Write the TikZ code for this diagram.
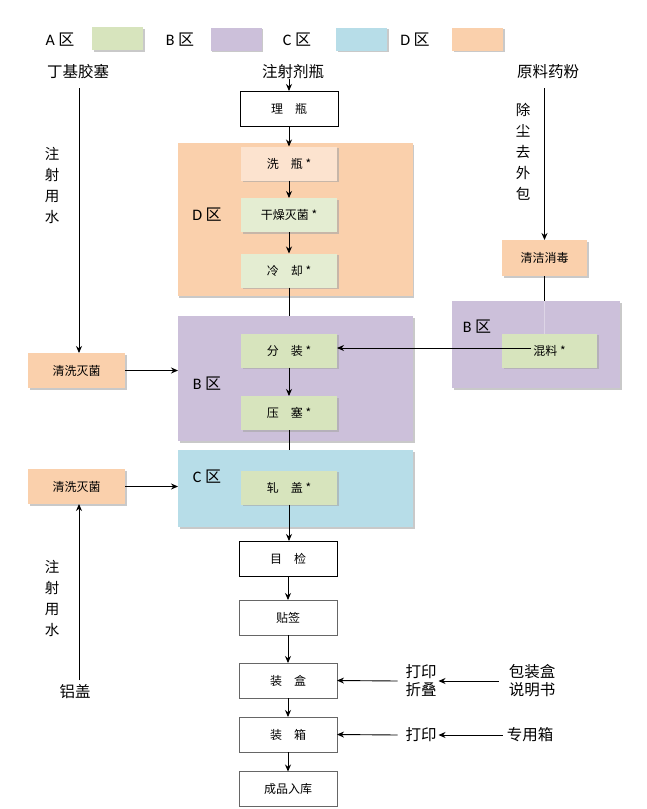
\documentclass[tikz,border=0pt]{standalone}
\usepackage{fontspec}
\setmainfont{Noto Sans CJK SC}
\newfontfamily\lat{Carlito}
\usetikzlibrary{arrows.meta,shadows}
\definecolor{zA}{HTML}{D7E4BD}
\definecolor{zAl}{HTML}{E4EDD2}
\definecolor{zB}{HTML}{CCC0DA}
\definecolor{zC}{HTML}{B7DDE8}
\definecolor{zD}{HTML}{FAD0AC}
\definecolor{zDl}{HTML}{FCE3CF}
\begin{document}
\begin{tikzpicture}[x=1pt,y=-1pt,
  every node/.style={inner sep=0pt, outer sep=0pt},
  shd/.style={drop shadow={shadow xshift=1.5pt,shadow yshift=-1.5pt,fill=black!35,opacity=0.6}},
  legendbox/.style={fill=#1, minimum width=51pt, minimum height=23pt, shd},
  zone/.style={fill=#1, minimum width=235pt, shd},
  inbox/.style={fill=#1, minimum width=96pt, minimum height=34pt, shd},
  whitebox/.style={draw=#1, fill=white, minimum width=98pt, minimum height=35pt},
  lbl/.style={font=\fontsize{15.5}{18}\selectfont},
  btxt/.style={font=\fontsize{12}{14}\selectfont},
  zlbl/.style={font=\fontsize{16}{18}\selectfont},
  vtxt/.style={font=\fontsize{14.5}{21}\selectfont, align=center},
  arr/.style={-{Stealth[length=7pt,width=6pt]}, line width=0.9pt},
  ln/.style={line width=0.9pt}
]
\useasboundingbox (0,0) rectangle (646,809);
\fill[white] (0,0) rectangle (646,809);

% legend
\node[zlbl] (la) at (60,40) {{\lat A} 区};
\node[legendbox=zA] (ra) at (117.5,38.5) {};
\node[zlbl] (lb) at (180,40) {{\lat B} 区};
\node[legendbox=zB] (rb) at (236,39) {};
\node[zlbl] (lc) at (297,40) {{\lat C} 区};
\node[legendbox=zC] (rc) at (361.5,39) {};
\node[zlbl] (ld) at (415,40) {{\lat D} 区};
\node[legendbox=zD] (rd) at (477.5,39) {};

% top labels
\node[lbl] (tj) at (78,72) {丁基胶塞};
\node[lbl] (zs) at (293,72) {注射剂瓶};
\node[lbl] (yl) at (548,72) {原料药粉};

% zones
\node[zone=zD, minimum height=153pt] (zoneD) at (295,219.5) {};
\node[zone=zB, minimum height=125pt] (zoneB) at (295.5,378.5) {};
\node[zone=zC, minimum height=77pt] (zoneC) at (295.5,488.5) {};
\node[fill=zB, minimum width=168pt, minimum height=87pt, shd] (zoneB2) at (536,344.5) {};

\node[zlbl] (zdl) at (207,215) {{\lat D} 区};
\node[zlbl] (zbl) at (207,384) {{\lat B} 区};
\node[zlbl] (zcl) at (207,477) {{\lat C} 区};
\node[zlbl] (zb2l) at (477,327) {{\lat B} 区};

% main column
\node[whitebox=black, btxt] (liping) at (289,108.5) {理\quad 瓶};
\node[inbox=zDl, btxt] (xiping) at (289,163.5) {洗\quad 瓶 *};
\node[inbox=zAl, btxt] (ganzao) at (289,215) {干燥灭菌 *};
\node[inbox=zAl, btxt] (lengque) at (289,270.5) {冷\quad 却 *};
\node[inbox=zA, btxt] (fenzhuang) at (289,350.5) {分\quad 装 *};
\node[inbox=zA, btxt] (yasai) at (289,413) {压\quad 塞 *};
\node[inbox=zA, btxt] (yagai) at (289,487.5) {轧\quad 盖 *};
\node[whitebox=black, btxt, line width=1pt] (mujian) at (288,558.5) {目\quad 检};
\node[whitebox=black!60, btxt] (tieqian) at (288,617.5) {贴签};
\node[whitebox=black!60, btxt] (zhuanghe) at (288,680.5) {装\quad 盒};
\node[whitebox=black!60, btxt] (zhuangxiang) at (288,734.5) {装\quad 箱};
\node[whitebox=black!60, btxt] (chengpin) at (288,789) {成品入库};

% right side
\node[fill=zD, minimum width=85pt, minimum height=36pt, shd, btxt] (qingjie) at (544.5,258) {清洁消毒};
\node[inbox=zA, minimum width=95pt, btxt] (hunliao) at (549.5,350.5) {混料 *};
\node[vtxt] (chuchen) at (523,152) {除\\尘\\去\\外\\包};

% left side
\node[fill=zD, minimum width=97pt, minimum height=35pt, shd, btxt] (qx1) at (76.5,370.5) {清洗灭菌};
\node[fill=zD, minimum width=97pt, minimum height=35pt, shd, btxt] (qx2) at (76.5,486.5) {清洗灭菌};
\node[vtxt] (zsy1) at (52,185) {注\\射\\用\\水};
\node[vtxt] (zsy2) at (52,598) {注\\射\\用\\水};
\node[lbl] (lvgai) at (75,692) {铝盖};

% bottom right
\node[align=center, font=\fontsize{15.5}{18}\selectfont] (dyzd) at (421,681) {打印\\折叠};
\node[align=center, font=\fontsize{15.5}{18}\selectfont] (bzh) at (532,681) {包装盒\\说明书};
\node[lbl] (dy) at (421,735) {打印};
\node[lbl] (zyx) at (530,735) {专用箱};

% connectors main
\draw[arr] (zs.south -| liping.north) -- (liping.north);
\draw[arr] (liping) -- (xiping);
\draw[arr] (xiping) -- (ganzao);
\draw[arr] (ganzao) -- (lengque);
\draw[ln] (lengque.south) -- (lengque.south |- zoneB.north);
\draw[arr] (fenzhuang) -- (yasai);
\draw[ln] (yasai.south) -- (yasai.south |- zoneC.north);
\draw[arr] (yagai.south) -- (mujian.north -| yagai.south);
\draw[arr] (mujian) -- (tieqian);
\draw[arr] (tieqian) -- (zhuanghe);
\draw[arr] (zhuanghe) -- (zhuangxiang);
\draw[arr] (zhuangxiang) -- (chengpin);

% right connectors
\coordinate (ylx) at (544.5,88);
\draw[arr] (ylx) -- (qingjie.north);
\draw[ln] (qingjie.south) -- (qingjie.south |- zoneB2.north);
\draw[ln, white, opacity=0.35] (qingjie.south |- zoneB2.north) -- (qingjie.south |- hunliao.north);
\coordinate (hlstart) at (531,348);
\draw[arr] (hlstart) -- (fenzhuang.east |- hlstart);

% left connectors
\coordinate (tjx) at (79,88);
\draw[arr] (tjx) -- (qx1.north -| tjx);
\draw[arr] (qx1.east) -- (zoneB.west |- qx1.east);
\draw[arr] (qx2.east) -- (zoneC.west |- qx2.east);
\coordinate (lgx) at (79,680);
\draw[arr] (lgx) -- (qx2.south -| lgx);

% bottom right connectors
\draw[arr] ([xshift=-8pt]dyzd.west) -- (zhuanghe.east);
\draw[arr] ([xshift=-10pt]bzh.west) -- ([xshift=2pt]dyzd.east);
\draw[arr] ([xshift=-8pt]dy.west) -- (zhuangxiang.east);
\draw[arr] ([xshift=-4pt]zyx.west) -- ([xshift=2pt]dy.east);
\end{tikzpicture}
\end{document}
